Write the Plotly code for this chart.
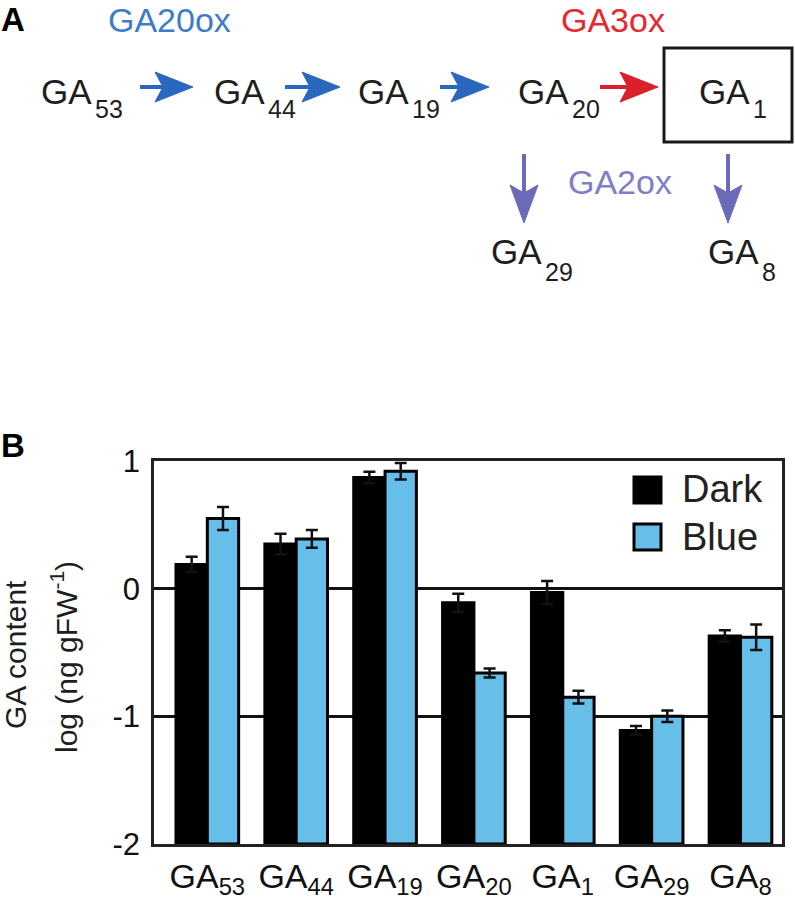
import plotly.graph_objects as go

# ---------------- data ----------------
categories = ["GA53", "GA44", "GA19", "GA20", "GA1", "GA29", "GA8"]
tick_labels = ["GA<sub>53</sub>", "GA<sub>44</sub>", "GA<sub>19</sub>", "GA<sub>20</sub>",
               "GA<sub>1</sub>", "GA<sub>29</sub>", "GA<sub>8</sub>"]
dark_values = [0.19, 0.35, 0.87, -0.11, -0.03, -1.11, -0.37]
dark_errors = [0.06, 0.08, 0.045, 0.07, 0.09, 0.035, 0.045]
blue_values = [0.55, 0.39, 0.92, -0.66, -0.85, -1.00, -0.38]
blue_errors = [0.09, 0.07, 0.065, 0.035, 0.05, 0.045, 0.10]
series_names = ["Dark", "Blue"]
y_ticks = [1, 0, -1, -2]
BASE = -2

# ---------------- style ----------------
W, H = 795, 899
L, R, T, B = 154, 13, 461, 55
PW, PH = W - L - R, H - T - B
FONT = "Liberation Sans, Arial, Helvetica, sans-serif"
BLUE_BAR = "#67bee9"
C_BLUE = "#2a68bd"
C_BLUE_TXT = "#3f7cc7"
C_RED = "#da2028"
C_RED_TXT = "#e8262d"
C_PURP = "#6b6bb9"
C_PURP_TXT = "#7f7ec8"
TXT = "#1e1e1e"


def px(x):
    return (x - L) / PW


def py(y):
    return (H - B - y) / PH


fig = go.Figure()
for name, vals, errs, col in [(series_names[0], dark_values, dark_errors, "#000000"),
                              (series_names[1], blue_values, blue_errors, BLUE_BAR)]:
    fig.add_trace(go.Bar(
        x=categories, y=[v - BASE for v in vals], base=BASE, name=name,
        marker=dict(color=col, line=dict(color="#000000", width=3)),
        error_y=dict(type="data", array=errs, color="#111111", thickness=2.5, width=6),
        showlegend=False,
    ))

shapes = []
annotations = []


def text(x, y, s, size, color=TXT, xanchor="left", yanchor="middle", angle=0, bold=False):
    annotations.append(dict(
        x=px(x), y=py(y), xref="paper", yref="paper", text=f"<b>{s}</b>" if bold else s,
        showarrow=False, xanchor=xanchor, yanchor=yanchor, textangle=angle, borderpad=0,
        font=dict(family=FONT, size=size, color=color)))


def h_arrow(x0, x1, y, color):
    shapes.append(dict(type="line", xref="paper", yref="paper",
                       x0=px(x0), x1=px(x1 - 28), y0=py(y), y1=py(y),
                       line=dict(color=color, width=4)))
    pts = [(x1, y), (x1 - 38, y - 15), (x1 - 30, y), (x1 - 38, y + 15)]
    path = "M" + " L".join(f"{px(a)},{py(b)}" for a, b in pts) + " Z"
    shapes.append(dict(type="path", xref="paper", yref="paper", path=path,
                       fillcolor=color, line=dict(color=color, width=1)))


def v_arrow(x, y0, y1, color):
    shapes.append(dict(type="line", xref="paper", yref="paper",
                       x0=px(x), x1=px(x), y0=py(y0), y1=py(y1 - 28),
                       line=dict(color=color, width=4)))
    pts = [(x, y1), (x - 14, y1 - 38), (x, y1 - 30), (x + 14, y1 - 38)]
    path = "M" + " L".join(f"{px(a)},{py(b)}" for a, b in pts) + " Z"
    shapes.append(dict(type="path", xref="paper", yref="paper", path=path,
                       fillcolor=color, line=dict(color=color, width=1)))


def ga_label(x, y, sub, sub_dy):
    """GA word with a large subscript; x = left of G, y = cap centre."""
    text(x, y, "GA", 35)
    text(x + 54, y + sub_dy, sub, 25)


# ---------------- panel A ----------------
text(0, 20, "A", 33, "#000000", bold=True)
text(169, 20, "GA20ox", 34, C_BLUE_TXT, xanchor="center")
text(613, 20, "GA3ox", 34, C_RED_TXT, xanchor="center")
text(620, 182, "GA2ox", 34, C_PURP_TXT, xanchor="center")

for x, s in [(40, "53"), (213, "44"), (357, "19"), (517, "20"), (698, "1")]:
    ga_label(x, 91.5, s, 18)
ga_label(490, 251.5, "29", 20)
ga_label(707, 251.5, "8", 20)

h_arrow(140, 193, 87, C_BLUE)
h_arrow(285, 340, 87, C_BLUE)
h_arrow(440, 489, 87, C_BLUE)
h_arrow(600, 658, 87, C_RED)
v_arrow(524, 154, 223, C_PURP)
v_arrow(728, 154, 223, C_PURP)
shapes.append(dict(type="rect", xref="paper", yref="paper",
                   x0=px(664), x1=px(792), y0=py(48), y1=py(142),
                   line=dict(color="#1a1a1a", width=3), fillcolor="rgba(0,0,0,0)"))

# ---------------- panel B ----------------
text(0, 446, "B", 33, "#000000", bold=True)
text(15, 655, "GA content", 30, TXT, xanchor="center", angle=-90)
text(64, 657, "log (ng gFW<sup>-1</sup>)", 30, TXT, xanchor="center", angle=-90)

# legend
shapes.append(dict(type="rect", xref="paper", yref="paper",
                   x0=px(634), x1=px(661), y0=py(477), y1=py(503),
                   fillcolor="#000000", line=dict(color="#000000", width=3)))
shapes.append(dict(type="rect", xref="paper", yref="paper",
                   x0=px(634), x1=px(661), y0=py(524), y1=py(550),
                   fillcolor=BLUE_BAR, line=dict(color="#000000", width=3)))
text(681, 489, series_names[0], 38, "#222222")
text(681, 537, series_names[1], 38, "#222222")

fig.update_layout(
    width=W, height=H, margin=dict(l=L, r=R, t=T, b=B, pad=0, autoexpand=False),
    paper_bgcolor="white", plot_bgcolor="white",
    barmode="group", bargap=0.295, bargroupgap=0,
    font=dict(family=FONT, color=TXT),
    shapes=shapes, annotations=annotations, showlegend=False,
)
fig.update_xaxes(range=[-0.6, 6.467], tickmode="array", tickvals=categories, ticktext=tick_labels,
                 tickfont=dict(size=34, family=FONT, color="#111111"), ticks="",
                 automargin=False,
                 showline=True, mirror=True, linecolor="#222222", linewidth=2.5,
                 showgrid=False, zeroline=False, fixedrange=True)
fig.update_yaxes(range=[-2, 1], tickmode="array", tickvals=y_ticks,
                 ticktext=[str(v) if v >= 0 else "-" + str(-v) for v in y_ticks],
                 tickfont=dict(size=31, family=FONT, color="#111111"), ticks="",
                 ticklabelstandoff=5, automargin=False,
                 showline=True, mirror=True, linecolor="#222222", linewidth=2.5,
                 showgrid=True, gridcolor="#111111", gridwidth=2.5, zeroline=False, fixedrange=True)

# remove the default 8px page margin so the figure sits at the window origin
fig.write_html("out.html", config={"displayModeBar": False},
               post_script="document.body.style.margin='0';document.body.style.overflow='hidden';")
